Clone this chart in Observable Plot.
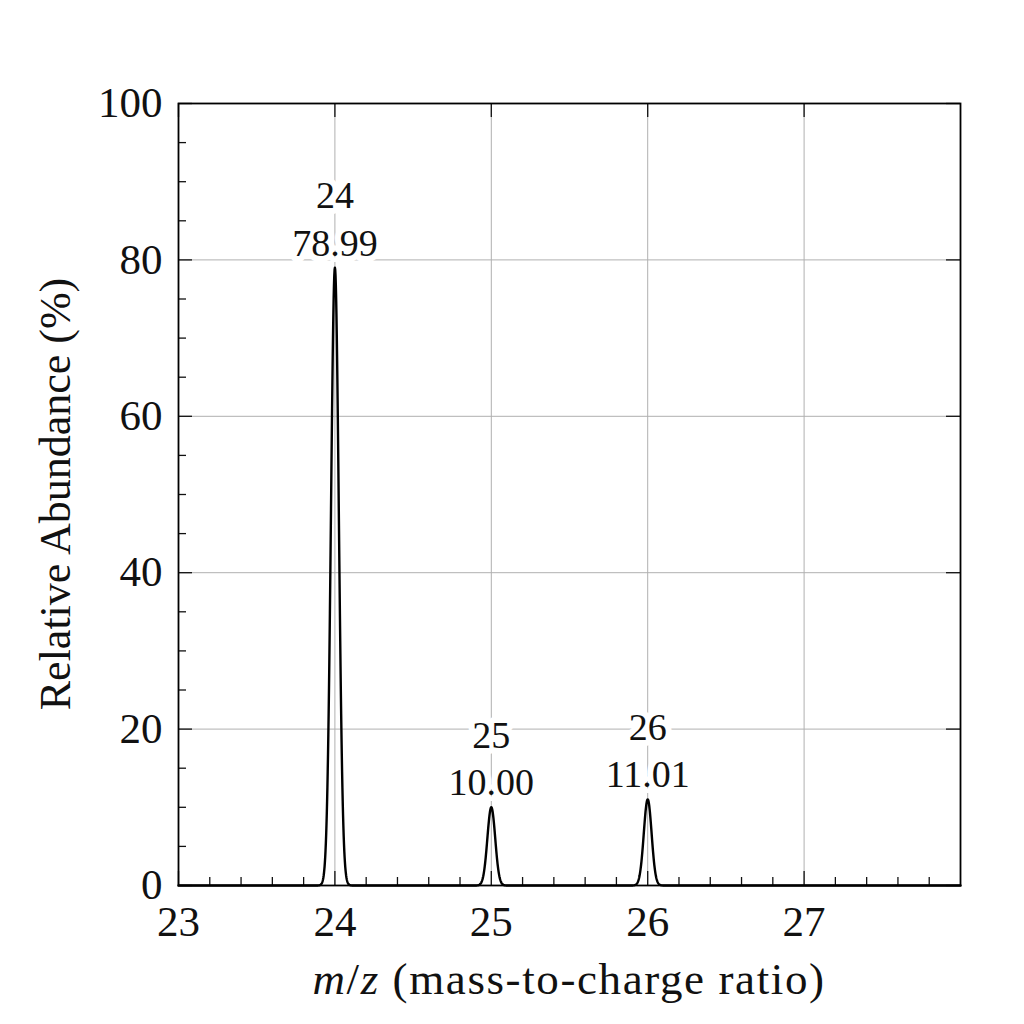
<!DOCTYPE html>
<html>
<head>
<meta charset="utf-8">
<script src="https://cdn.jsdelivr.net/npm/d3@7"></script>
<script src="https://cdn.jsdelivr.net/npm/@observablehq/plot@0.6"></script>
<style>
  html, body { margin: 0; padding: 0; background: #fff; }
  #chart { width: 1024px; height: 1024px; }
  #chart svg, #chart svg text { font-family: "Liberation Serif", serif; }
</style>
</head>
<body>
<div id="chart"></div>
<script>
// ---- data ----
const peakMz = [24, 25, 26];
const peakAbundance = [78.99, 10.00, 11.01];
const peakLabels = ["24\n78.99", "25\n10.00", "26\n11.01"];
const xTicks = [23, 24, 25, 26, 27];
const yTicks = [0, 20, 40, 60, 80, 100];
const xMinorTicks = [23.2, 23.4, 23.6, 23.8, 24.2, 24.4, 24.6, 24.8, 25.2, 25.4, 25.6, 25.8, 26.2, 26.4, 26.6, 26.8, 27.2, 27.4, 27.6, 27.8];
const yMinorTicks = [5, 10, 15, 25, 30, 35, 45, 50, 55, 65, 70, 75, 85, 90, 95];
const peakSigma = 0.025; // instrument peak width used to draw each peak

// ---- layout ----
const W = 1024, H = 1024;
const mL = 178, mR = 64, mT = 103, mB = 139;
const innerW = W - mL - mR, innerH = H - mT - mB;
const font = "Liberation Serif";
const majorLen = 14, minorLen = 8;

// profile: render each peak as a Gaussian of the given height
const profile = [];
for (let i = 0; i <= 2500; i++) {
  const x = 23 + i * 0.002;
  let y = 0;
  peakMz.forEach((m, k) => { y += peakAbundance[k] * Math.exp(-((x - m) ** 2) / (2 * peakSigma ** 2)); });
  profile.push({x, y});
}
const peaks = peakMz.map((m, k) => ({mz: m, ab: peakAbundance[k], label: peakLabels[k]}));

const plot = Plot.plot({
  width: W, height: H,
  marginLeft: mL, marginRight: mR, marginTop: mT, marginBottom: mB,
  style: {background: "white", overflow: "visible"},
  x: {domain: [23, 28]},
  y: {domain: [0, 100]},
  marks: [
    // grid
    Plot.gridX(xTicks, {stroke: "#b0b0b0", strokeOpacity: 1, strokeWidth: 1}),
    Plot.gridY(yTicks, {stroke: "#b0b0b0", strokeOpacity: 1, strokeWidth: 1}),
    // tick labels
    Plot.axisX(xTicks, {tickSize: 0, tickPadding: 20, fontSize: 43, label: null, tickFormat: d => String(d), fill: "#111"}),
    Plot.axisY(yTicks, {tickSize: 0, tickPadding: 16, fontSize: 43, label: null, tickFormat: d => String(d), fill: "#111"}),
    // inward ticks
    Plot.ruleX(xTicks, {x: d => d, insetTop: innerH - majorLen, stroke: "#111", strokeWidth: 1.3}),
    Plot.ruleX(xTicks, {x: d => d, insetBottom: innerH - majorLen, stroke: "#111", strokeWidth: 1.3}),
    Plot.ruleX(xMinorTicks, {x: d => d, insetTop: innerH - minorLen, stroke: "#111", strokeWidth: 1.3}),
    Plot.ruleY(yTicks, {y: d => d, insetRight: innerW - majorLen, stroke: "#111", strokeWidth: 1.3}),
    Plot.ruleY(yTicks, {y: d => d, insetLeft: innerW - majorLen, stroke: "#111", strokeWidth: 1.3}),
    Plot.ruleY(yMinorTicks, {y: d => d, insetRight: innerW - minorLen, stroke: "#111", strokeWidth: 1.3}),
    // spectrum
    Plot.line(profile, {x: "x", y: "y", stroke: "#000", strokeWidth: 2.4, curve: "linear"}),
    // peak annotations
    Plot.text(peaks, {x: "mz", y: "ab", text: "label", lineAnchor: "bottom", dy: -12, lineHeight: 1.25,
      fontSize: 38, fill: "#111", stroke: "white", strokeWidth: 12, paintOrder: "stroke"}),
    Plot.frame({stroke: "#000", strokeWidth: 1.8})
  ]
});
document.getElementById("chart").appendChild(plot);

// axis titles
const svg = d3.select(plot);
const xt = svg.append("text")
  .attr("x", mL + innerW / 2).attr("y", 994)
  .attr("text-anchor", "middle")
  .attr("letter-spacing", 1.6)
  .attr("font-family", font).attr("font-size", 45).attr("fill", "#111");
xt.append("tspan").attr("font-style", "italic").text("m");
xt.append("tspan").text("/");
xt.append("tspan").attr("font-style", "italic").text("z");
xt.append("tspan").text(" (mass-to-charge ratio)");

svg.append("text")
  .attr("transform", `translate(70,${mT + innerH / 2}) rotate(-90)`)
  .attr("text-anchor", "middle")
  .attr("font-family", font).attr("font-size", 44).attr("fill", "#111")
  .text("Relative Abundance (%)");
</script>
</body>
</html>
